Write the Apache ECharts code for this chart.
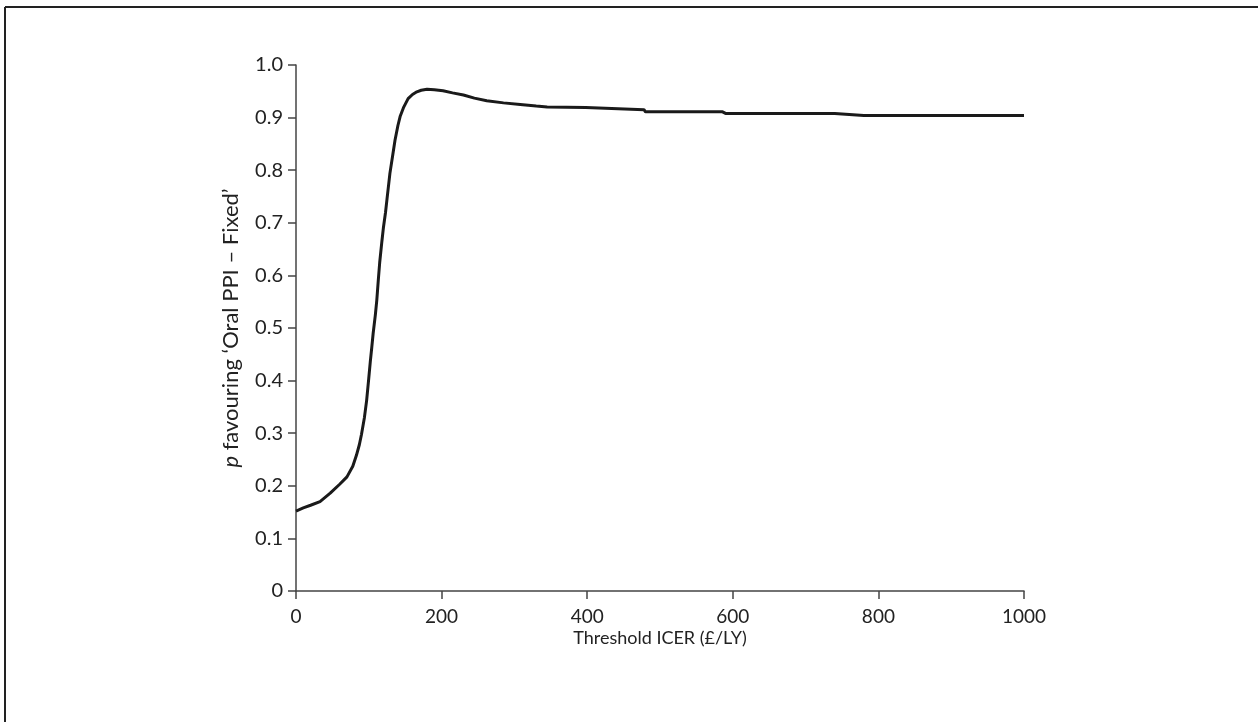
<!DOCTYPE html>
<html lang="en">
<head>
    <meta charset="UTF-8">
    <title>Acceptability curve</title>
    <style>
        body {
            margin: 0;
            padding: 0;
            background-color: #fff;
        }
        #main {
            width: 1258px;
            height: 722px;
        }
    </style>
</head>
<body>
<div id="main"></div>

<script src="https://cdn.jsdelivr.net/npm/echarts@6/dist/echarts.min.js"></script>
<script>
    // threshold ICER (£/LY) and probability favouring 'Oral PPI – Fixed'
    const thresholds = [0, 10, 20, 33, 47, 60, 70, 78, 83, 87, 90, 94, 97, 100, 102, 104, 106, 109, 111, 113,
        115, 118, 120, 123, 125, 129, 133, 136, 140, 143, 148, 154, 160, 166, 172, 180, 190, 202, 215, 230,
        245, 262, 285, 308, 330, 345, 398, 400, 478, 480, 586, 590, 740, 780, 1000];
    const probability = [0.152, 0.158, 0.163, 0.170, 0.186, 0.203, 0.217, 0.237, 0.258, 0.278, 0.298, 0.330,
        0.362, 0.405, 0.435, 0.462, 0.490, 0.525, 0.553, 0.590, 0.625, 0.665, 0.690, 0.720, 0.745, 0.794,
        0.830, 0.857, 0.885, 0.902, 0.920, 0.936, 0.944, 0.949, 0.952, 0.954, 0.953, 0.951, 0.947, 0.943,
        0.937, 0.932, 0.928, 0.925, 0.922, 0.920, 0.919, 0.916, 0.915, 0.911, 0.911, 0.908, 0.908, 0.904, 0.904];
    const xTicks = [0, 200, 400, 600, 800, 1000];

    const font = 'Lato, "Open Sans", sans-serif';
    const axisColor = '#444';
    const textColor = '#222';

    const myChart = echarts.init(document.getElementById('main'));

    const option = {
        backgroundColor: '#fff',
        animation: false,
        textStyle: { fontFamily: font },
        grid: { left: 296, right: 234, top: 65, bottom: 131 },
        // frame around the figure (top and left edges only are visible)
        graphic: [
            { type: 'line', shape: { x1: 5, y1: 7, x2: 1258, y2: 7 }, style: { stroke: '#222', lineWidth: 2 } },
            { type: 'line', shape: { x1: 5, y1: 7, x2: 5, y2: 722 }, style: { stroke: '#222', lineWidth: 2 } }
        ],
        xAxis: {
            type: 'value',
            min: 0,
            max: 1000,
            interval: 200,
            name: 'Threshold ICER (£/LY)',
            nameLocation: 'middle',
            nameGap: 38,
            nameMoveOverlap: false,
            nameTextStyle: { fontSize: 18, color: textColor, fontFamily: font },
            axisLine: { lineStyle: { color: axisColor, width: 1.5 } },
            axisTick: { length: 8, lineStyle: { color: axisColor, width: 1.5 } },
            axisLabel: {
                fontSize: 19, color: textColor, margin: 16,
                customValues: xTicks,
                formatter: v => String(v)
            },
            splitLine: { show: false }
        },
        yAxis: {
            type: 'value',
            min: 0,
            max: 1,
            interval: 0.1,
            name: '{i|p} favouring ‘Oral PPI – Fixed’',
            nameLocation: 'middle',
            nameGap: 54,
            nameMoveOverlap: false,
            nameTextStyle: {
                fontSize: 22, color: textColor, fontFamily: font,
                rich: { i: { fontStyle: 'italic', fontSize: 22, color: textColor, fontFamily: font } }
            },
            axisLine: { show: true, lineStyle: { color: axisColor, width: 1.5 } },
            axisTick: { show: true, length: 8, lineStyle: { color: axisColor, width: 1.5 } },
            axisLabel: {
                fontSize: 20, color: textColor, margin: 13,
                formatter: v => (v === 0 ? '0' : v.toFixed(1))
            },
            splitLine: { show: false }
        },
        series: [
            {
                type: 'line',
                data: thresholds.map((t, i) => [t, probability[i]]),
                showSymbol: false,
                lineStyle: { color: '#1a1a1a', width: 3 }
            }
        ]
    };

    myChart.setOption(option);
</script>
</body>
</html>
